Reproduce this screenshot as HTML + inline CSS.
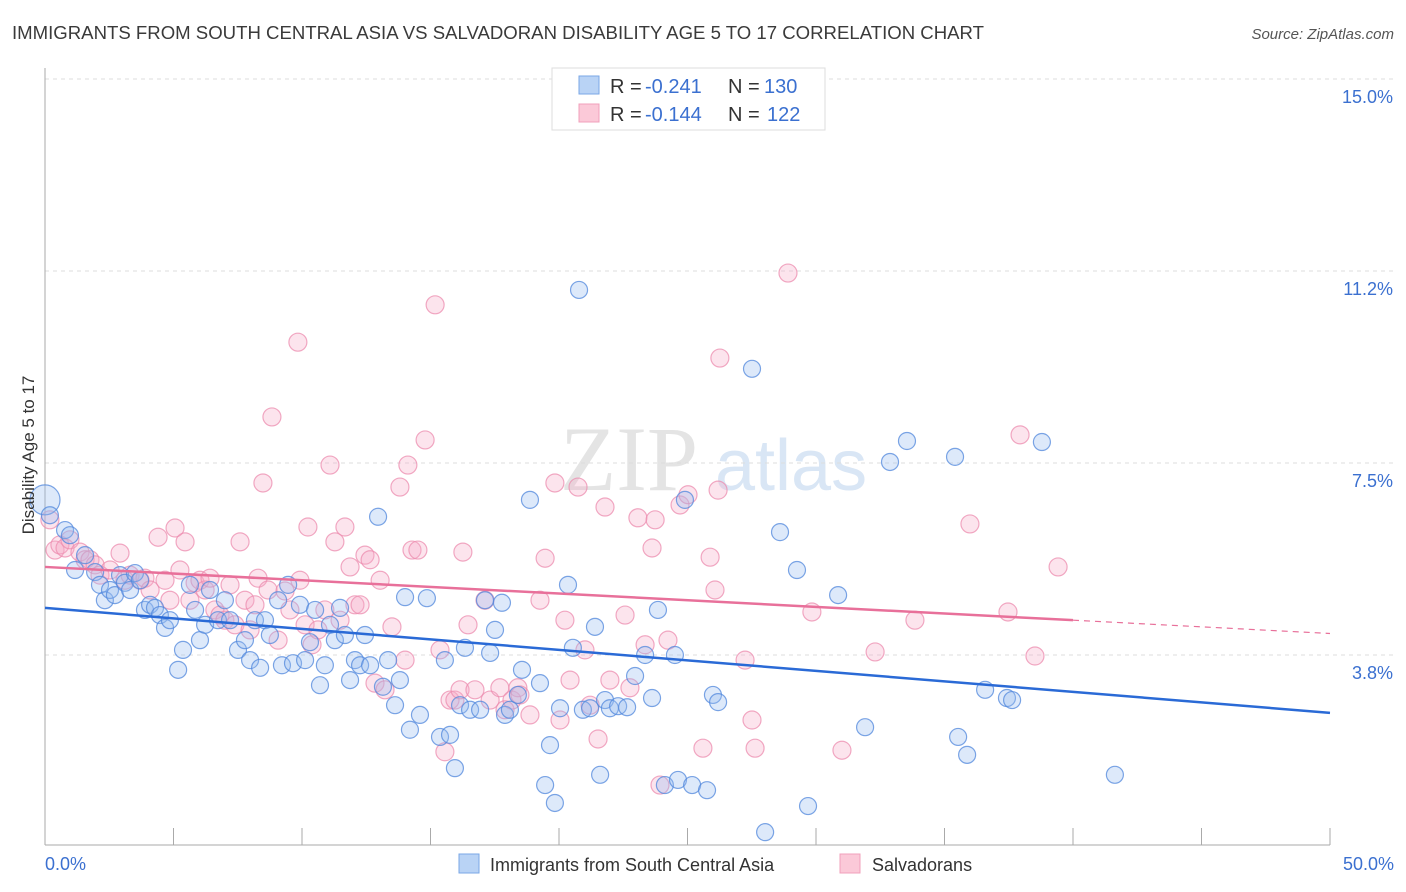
<!DOCTYPE html>
<html><head><meta charset="utf-8"><style>
body{margin:0;background:#fff;font-family:"Liberation Sans",sans-serif;}
svg{display:block}
</style></head><body>
<svg id="chart" width="1406" height="892" xmlns="http://www.w3.org/2000/svg">
<text x="12" y="39" font-size="18" fill="#3a3a3a" textLength="972" lengthAdjust="spacingAndGlyphs">IMMIGRANTS FROM SOUTH CENTRAL ASIA VS SALVADORAN DISABILITY AGE 5 TO 17 CORRELATION CHART</text>
<text x="1394" y="39" font-size="15" fill="#555" font-style="italic" text-anchor="end">Source: ZipAtlas.com</text>
<text x="560" y="490" font-size="92" fill="#e4e4e4" font-family="Liberation Serif,serif">ZIP</text>
<text x="715" y="490" font-size="72" fill="#d9e6f5">atlas</text>
<g id="grid"></g>
<g id="axes"></g>
<g id="pts"></g>
<g id="trend"></g>
<text transform="translate(34,455) rotate(-90)" font-size="17" fill="#333" text-anchor="middle">Disability Age 5 to 17</text>
<g>
<rect x="552" y="68" width="273" height="62" fill="#fff" stroke="#ddd"/>
<rect x="579" y="76" width="20" height="18" fill="#b9d3f5" stroke="#7aa7e6"/>
<rect x="579" y="104" width="20" height="18" fill="#fbc9d8" stroke="#f0a0bb"/>
<text x="610" y="93" font-size="20" fill="#333">R =</text>
<text x="645" y="93" font-size="20" fill="#3b70d0">-0.241</text>
<text x="728" y="93" font-size="20" fill="#333">N =</text>
<text x="764" y="93" font-size="20" fill="#3b70d0">130</text>
<text x="610" y="121" font-size="20" fill="#333">R =</text>
<text x="645" y="121" font-size="20" fill="#3b70d0">-0.144</text>
<text x="728" y="121" font-size="20" fill="#333">N =</text>
<text x="767" y="121" font-size="20" fill="#3b70d0">122</text>
</g>
<g>
<rect x="459" y="854" width="20" height="19" fill="#b9d3f5" stroke="#7aa7e6"/>
<text x="490" y="871" font-size="18" fill="#333">Immigrants from South Central Asia</text>
<rect x="840" y="854" width="20" height="19" fill="#fbc9d8" stroke="#f0a0bb"/>
<text x="872" y="871" font-size="18" fill="#333">Salvadorans</text>
</g>
</svg>
<script>
const blueX=[0,0.19,0.78,0.97,1.17,1.56,1.95,2.14,2.33,2.53,2.72,2.92,3.11,3.31,3.50,3.70,3.89,4.09,4.28,4.47,4.67,4.86,5.18,5.37,5.64,5.84,6.03,6.23,6.42,6.73,7.00,7.20,7.51,7.78,7.98,8.17,8.37,8.56,8.75,9.07,9.22,9.46,9.65,9.92,10.12,10.31,10.51,10.70,10.89,11.09,11.28,11.48,11.67,11.87,12.06,12.26,12.45,12.65,12.96,13.15,13.35,13.62,13.81,14.01,14.20,14.59,14.86,15.37,15.56,15.76,15.95,16.15,16.34,16.54,16.93,17.12,17.32,17.51,17.78,17.90,18.09,18.40,18.56,18.87,19.26,19.46,19.65,19.84,20.04,20.35,20.54,20.78,20.93,21.21,21.40,21.60,21.79,21.98,22.30,22.65,22.96,23.35,23.62,23.85,24.12,24.51,24.63,24.90,25.18,25.76,25.99,26.19,27.51,28.02,28.60,29.26,29.69,30.86,31.91,32.88,33.54,35.41,35.53,35.88,36.58,37.43,37.63,38.79,41.63];
const blueY=[6.78,6.48,6.19,6.09,5.41,5.70,5.37,5.12,4.82,5.02,4.92,5.31,5.16,5.02,5.35,5.21,4.63,4.73,4.67,4.53,4.28,4.43,3.46,3.85,5.12,4.63,4.04,4.34,5.02,4.43,4.82,4.43,3.85,4.04,3.65,4.43,3.50,4.43,4.14,4.82,3.55,5.12,3.59,4.73,3.65,4.00,4.63,3.16,3.55,4.34,4.04,4.67,4.14,3.26,3.65,3.55,4.14,3.55,6.45,3.13,3.65,2.77,3.26,4.88,2.29,2.58,4.86,2.15,3.65,2.19,1.54,2.77,3.89,2.68,2.68,4.82,3.79,4.24,4.77,2.58,2.68,2.97,3.46,6.78,3.20,1.21,1.99,0.86,2.71,5.12,3.89,10.88,2.68,2.71,4.30,1.41,2.87,2.71,2.75,2.73,3.34,3.75,2.91,4.63,1.21,3.75,1.31,6.78,1.21,1.11,2.97,2.83,9.34,0.29,6.15,5.41,0.80,4.92,2.34,7.52,7.93,7.62,2.15,1.80,3.07,2.91,2.87,7.91,1.41];
const pinkX=[0.19,0.39,0.58,0.78,0.97,1.36,1.56,1.75,1.95,2.14,2.53,2.92,3.11,3.31,3.70,3.89,4.09,4.40,4.67,4.86,5.06,5.25,5.45,5.64,5.84,6.03,6.23,6.42,6.61,6.81,7.00,7.20,7.39,7.59,7.78,7.98,8.17,8.29,8.48,8.68,8.83,9.07,9.34,9.53,9.84,9.92,10.12,10.23,10.39,10.62,10.89,11.09,11.28,11.48,11.67,11.87,12.06,12.26,12.45,12.65,12.84,13.04,13.23,13.50,13.81,14.01,14.12,14.28,14.51,14.79,15.18,15.37,15.56,15.76,15.95,16.15,16.26,16.46,16.73,17.12,17.32,17.70,17.90,18.17,18.40,18.48,18.87,19.26,19.46,19.84,20.04,20.23,20.43,20.74,21.01,21.21,21.52,21.79,21.98,22.57,22.76,23.07,23.35,23.62,23.74,23.93,24.24,24.71,25.02,25.60,25.88,26.07,26.19,26.26,27.24,27.51,27.63,28.91,29.84,31.01,32.30,33.85,35.99,37.47,37.94,38.52,39.42];
const pinkY=[6.39,5.80,5.90,5.84,6.00,5.76,5.61,5.61,5.51,5.31,5.41,5.74,5.21,5.31,5.21,5.25,5.02,6.05,5.21,4.82,6.23,5.41,5.96,4.82,5.16,5.21,5.02,5.25,4.63,4.53,4.43,5.12,4.34,5.96,4.82,4.24,4.73,5.25,7.11,5.02,8.40,4.04,5.00,4.63,9.86,5.21,4.34,6.25,3.95,4.24,4.63,7.46,5.96,4.43,6.25,5.47,4.73,4.73,5.70,5.61,3.20,5.21,3.07,4.30,7.03,3.65,7.46,5.80,5.80,7.95,10.59,3.85,1.86,2.87,2.87,3.07,5.76,4.34,3.07,4.82,2.87,3.11,2.68,2.87,3.11,2.97,2.58,4.82,5.64,7.11,2.48,4.43,3.26,7.03,3.85,2.77,2.11,6.64,3.26,4.53,3.11,6.43,3.95,5.84,6.39,1.21,4.04,6.68,6.88,1.93,5.66,5.02,6.97,9.55,3.65,2.48,1.93,11.21,4.59,1.89,3.81,4.43,6.31,4.59,8.05,3.73,5.47];
const blueTrendX=[0,50], blueTrendY=[4.67,2.62];
const pinkTrendX=[0,40,50], pinkTrendY=[5.47,4.43,4.17];
const yTicks=[15,11.25,7.5,3.75];
const yTickLabels=["15.0%","11.2%","7.5%","3.8%"];
const xTicks=[0,5,10,15,20,25,30,35,40,45,50];

const NS="http://www.w3.org/2000/svg";
const X=v=>45+v*(1285/50);
const Y=v=>847-v*51.2;
function mk(tag,attrs,parent){const e=document.createElementNS(NS,tag);for(const k in attrs)e.setAttribute(k,attrs[k]);document.getElementById(parent).appendChild(e);return e;}

yTicks.forEach((t,i)=>{
  const l=mk('line',{x1:45,x2:1394,y1:Y(t),y2:Y(t),stroke:'#ddd','stroke-dasharray':'4 4'},'grid');
  
  
  const tx=mk('text',{x:1393,y:Y(t)+24,'font-size':18,fill:'#3b70d0','text-anchor':'end'},'grid');
  tx.textContent=yTickLabels[i];
  
  
});
const ax=mk('line',{x1:45,x2:45,y1:68,y2:845,stroke:'#aaa'},'axes');


const bx=mk('line',{x1:45,x2:1330,y1:845,y2:845,stroke:'#aaa'},'axes');


xTicks.forEach(t=>{
  const l=mk('line',{x1:X(t),x2:X(t),y1:828,y2:845,stroke:'#aaa'},'axes');
  
  
});
const xl0=mk('text',{x:45,y:870,'font-size':18,fill:'#3b70d0'},'axes');xl0.textContent='0.0%';


const xl1=mk('text',{x:1394,y:870,'font-size':18,fill:'#3b70d0','text-anchor':'end'},'axes');xl1.textContent='50.0%';



pinkX.forEach((v,i)=>{
  const c=mk('circle',{cx:X(v),cy:Y(pinkY[i]),r:9,fill:'rgba(246,172,198,0.32)',stroke:'rgba(236,140,175,0.75)','stroke-width':1.2},'pts');
  
  
});
blueX.forEach((v,i)=>{
  const c=mk('circle',{cx:X(v),cy:Y(blueY[i]),r:i===0?15:8.5,fill:'rgba(150,188,238,0.32)',stroke:'rgba(80,135,220,0.75)','stroke-width':1.2},'pts');
  
  
});
const bt=mk('line',{x1:X(blueTrendX[0]),y1:Y(blueTrendY[0]),x2:X(blueTrendX[1]),y2:Y(blueTrendY[1]),stroke:'#2a6ad6','stroke-width':2.5},'trend');


const pt=mk('line',{x1:X(pinkTrendX[0]),y1:Y(pinkTrendY[0]),x2:X(pinkTrendX[1]),y2:Y(pinkTrendY[1]),stroke:'#e8709a','stroke-width':2.5},'trend');


const pd=mk('line',{x1:X(pinkTrendX[1]),y1:Y(pinkTrendY[1]),x2:X(pinkTrendX[2]),y2:Y(pinkTrendY[2]),stroke:'#e8709a','stroke-width':1.2,'stroke-dasharray':'6 5'},'trend');


</script>
</body></html>
